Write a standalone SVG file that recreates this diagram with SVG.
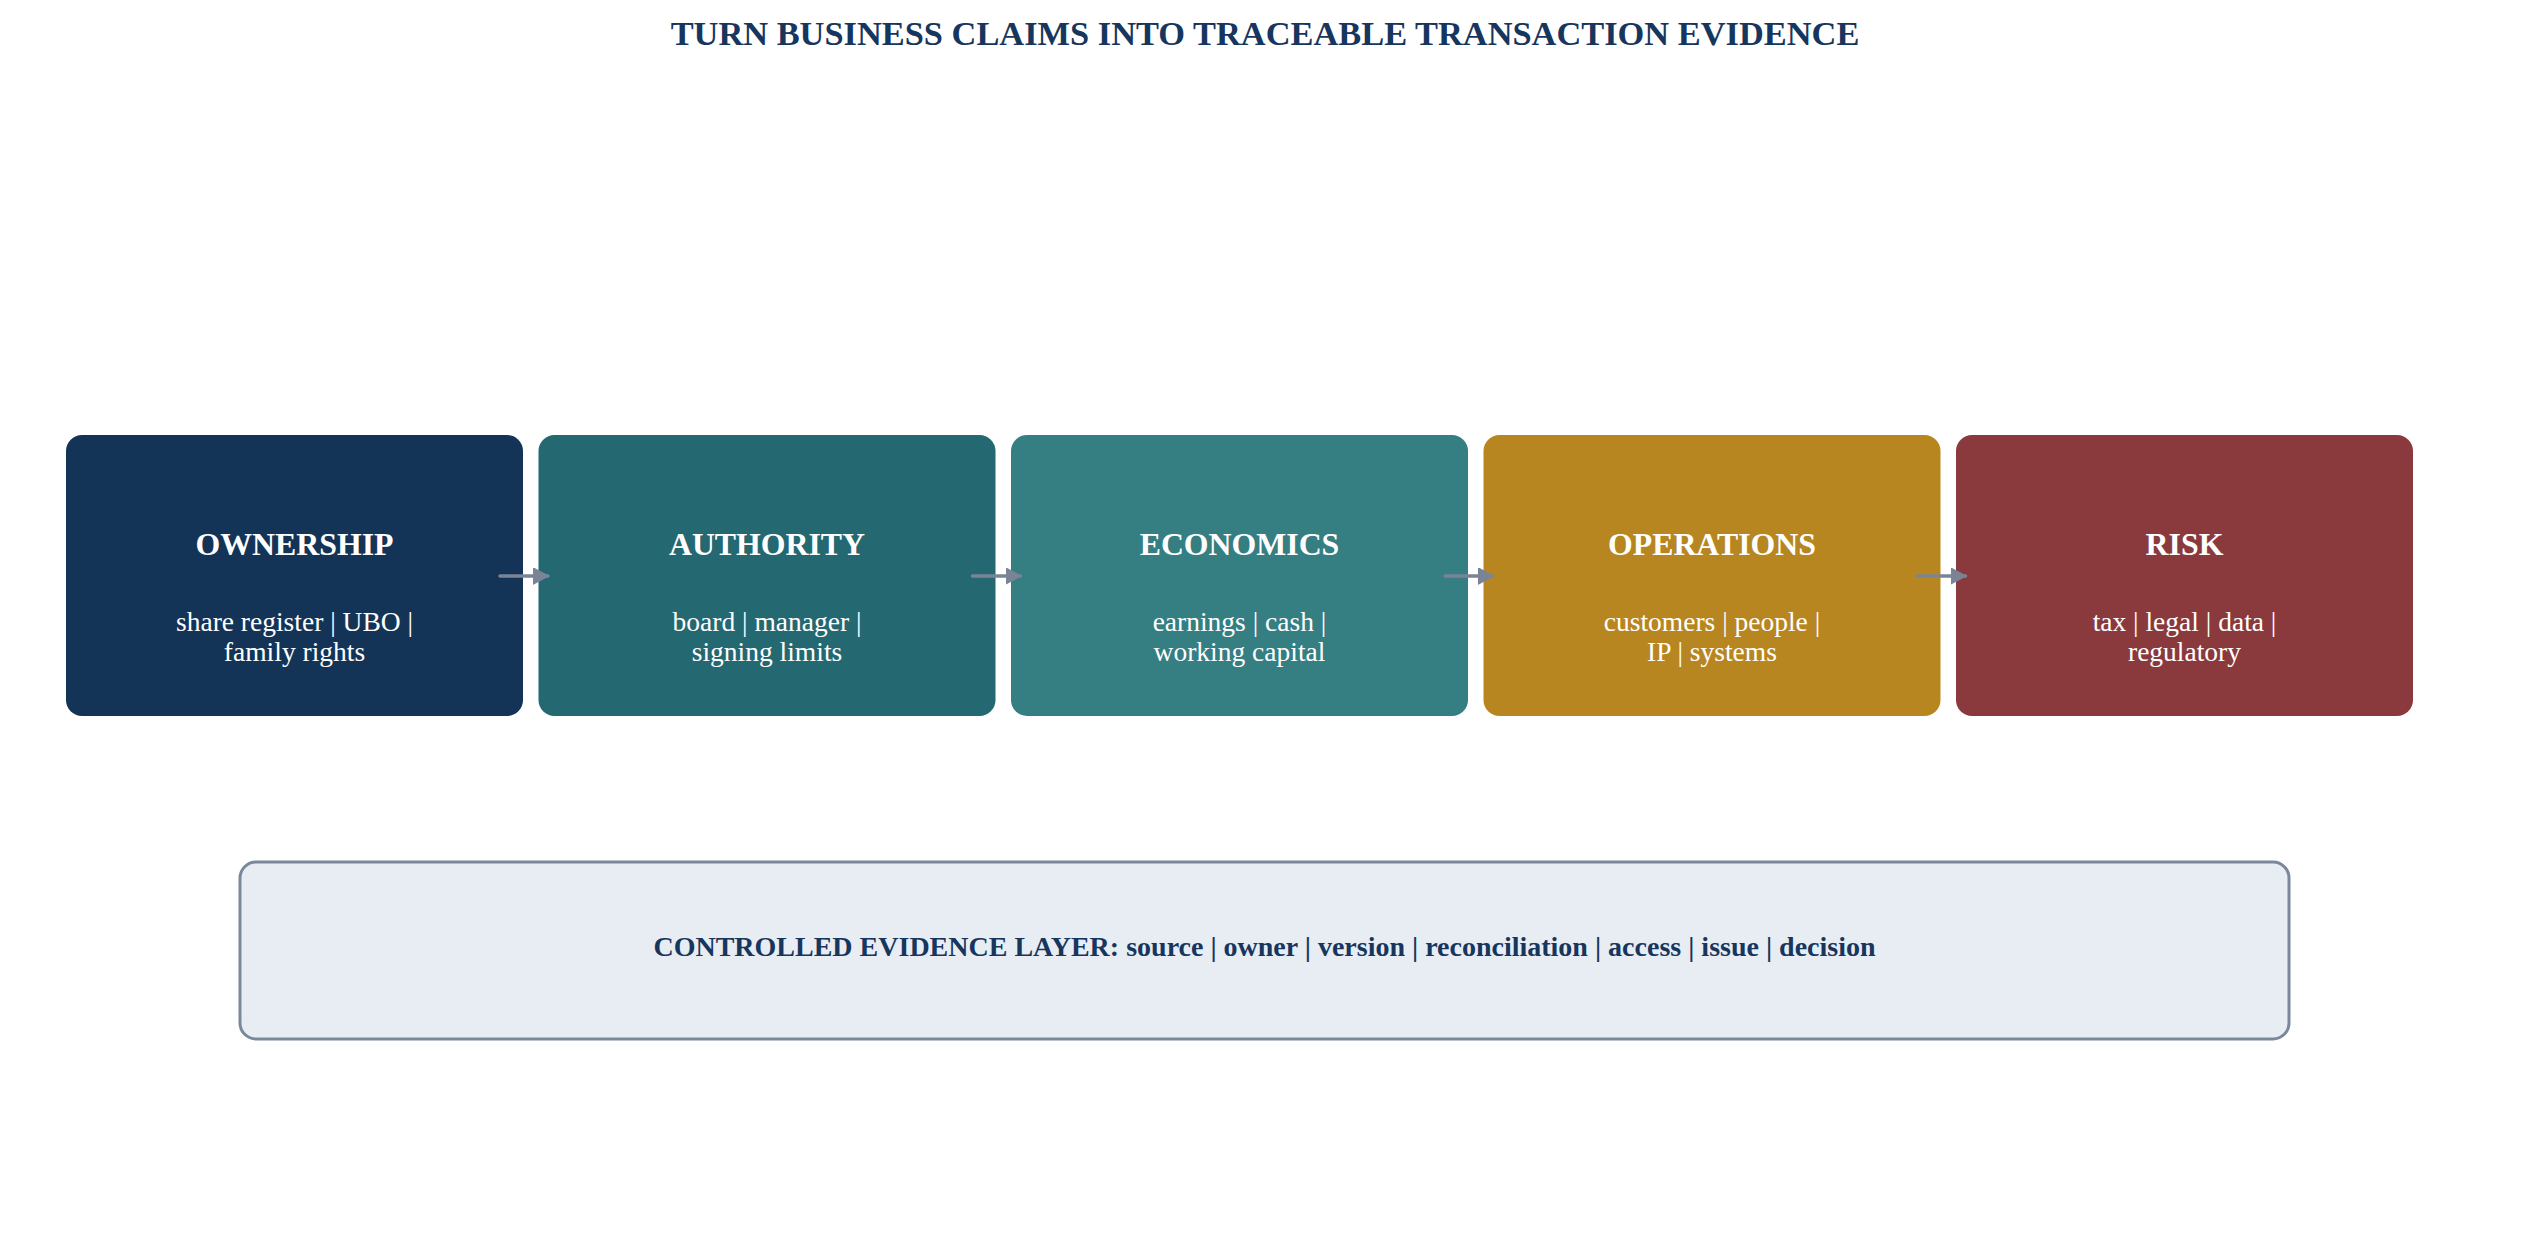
<svg xmlns="http://www.w3.org/2000/svg" width="2530" height="1254" viewBox="0 0 2530 1254">
<defs>
<style>
.title{font-family:"Liberation Serif","Times New Roman",serif;font-weight:bold;font-size:34.4px;fill:#17365d;text-anchor:middle}
.head{font-family:"Liberation Serif","Times New Roman",serif;font-weight:bold;font-size:31.8px;fill:#ffffff;text-anchor:middle}
.sub{font-family:"Liberation Serif","Times New Roman",serif;font-size:27.5px;fill:#ffffff;text-anchor:middle}
.layer{font-family:"Liberation Serif","Times New Roman",serif;font-weight:bold;font-size:28px;fill:#17365d;text-anchor:middle}
.conn{stroke:#7b8496;stroke-width:3.5;fill:none;stroke-linecap:round}
</style>
<marker id="ah" markerUnits="userSpaceOnUse" markerWidth="18" markerHeight="18" refX="15" refY="8" orient="auto">
<path d="M0,0 L15,8 L0,16 Z" fill="#7b8496" stroke="#7b8496" stroke-width="1.5" stroke-linejoin="round"/>
</marker>
</defs>
<rect width="2530" height="1254" fill="#ffffff"/>
<text class="title" x="1265" y="45">TURN BUSINESS CLAIMS INTO TRACEABLE TRANSACTION EVIDENCE</text>

<g id="ownership">
<rect x="66" y="435" width="457" height="281" rx="16" fill="#143457"/>
<text class="head" x="294.5" y="555">OWNERSHIP</text>
<text class="sub" x="294.5" y="631">share register | UBO |</text>
<text class="sub" x="294.5" y="661">family rights</text>
</g>
<g id="authority">
<rect x="538.5" y="435" width="457" height="281" rx="16" fill="#246872"/>
<text class="head" x="767" y="555">AUTHORITY</text>
<text class="sub" x="767" y="631">board | manager |</text>
<text class="sub" x="767" y="661">signing limits</text>
</g>
<g id="economics">
<rect x="1011" y="435" width="457" height="281" rx="16" fill="#357e82"/>
<text class="head" x="1239.5" y="555">ECONOMICS</text>
<text class="sub" x="1239.5" y="631">earnings | cash |</text>
<text class="sub" x="1239.5" y="661">working capital</text>
</g>
<g id="operations">
<rect x="1483.5" y="435" width="457" height="281" rx="16" fill="#b88620"/>
<text class="head" x="1712" y="555">OPERATIONS</text>
<text class="sub" x="1712" y="631">customers | people |</text>
<text class="sub" x="1712" y="661">IP | systems</text>
</g>
<g id="risk">
<rect x="1956" y="435" width="457" height="281" rx="16" fill="#8a3a3c"/>
<text class="head" x="2184.5" y="555">RISK</text>
<text class="sub" x="2184.5" y="631">tax | legal | data |</text>
<text class="sub" x="2184.5" y="661">regulatory</text>
</g>

<g id="evidence-layer">
<rect x="240" y="862" width="2049" height="177" rx="16" fill="#e8edf4" stroke="#7b879b" stroke-width="3"/>
<text class="layer" x="1264.5" y="956">CONTROLLED EVIDENCE LAYER: source | owner | version | reconciliation | access | issue | decision</text>
</g>

<g id="connectors">
<line class="conn" x1="500" y1="576" x2="548" y2="576" marker-end="url(#ah)"/>
<line class="conn" x1="972.5" y1="576" x2="1020.5" y2="576" marker-end="url(#ah)"/>
<line class="conn" x1="1445" y1="576" x2="1493" y2="576" marker-end="url(#ah)"/>
<line class="conn" x1="1917.5" y1="576" x2="1965.5" y2="576" marker-end="url(#ah)"/>
</g>
</svg>
